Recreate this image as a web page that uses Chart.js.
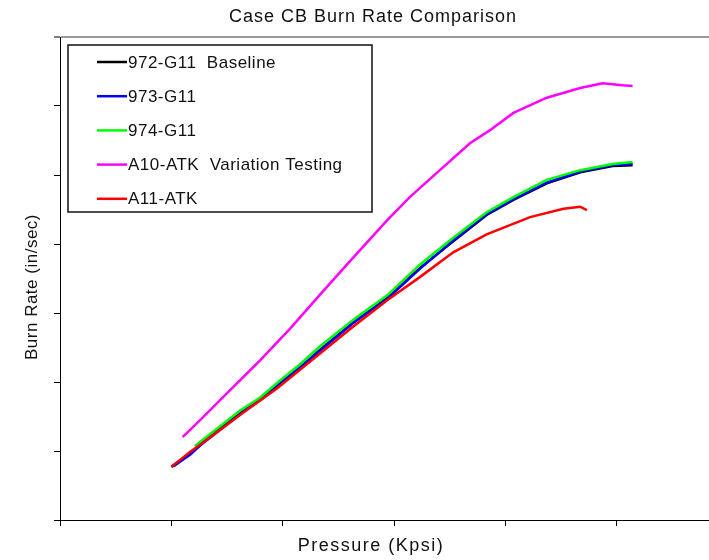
<!DOCTYPE html>
<html>
<head>
<meta charset="utf-8">
<script src="https://cdn.jsdelivr.net/npm/chart.js@4.4.0/dist/chart.umd.min.js"></script>
<style>
  html, body { margin: 0; padding: 0; background: #fff; }
  #wrap { width: 709px; height: 560px; }
</style>
</head>
<body>
<div id="wrap"><canvas id="burnChart" width="709" height="560"></canvas></div>
<script>
// pressure (Kpsi) and burn rate (in/sec)
const p972 = [1.00, 1.17, 1.28, 1.62, 1.80, 1.98, 2.15, 2.33, 2.63, 2.94, 3.23, 3.53, 3.83, 4.07, 4.37, 4.67, 4.96, 5.14];
const r972 = [0.077, 0.097, 0.113, 0.155, 0.174, 0.199, 0.220, 0.246, 0.286, 0.322, 0.365, 0.404, 0.442, 0.464, 0.488, 0.504, 0.513, 0.514];

const p973 = [1.02, 1.17, 1.28, 1.62, 1.80, 1.98, 2.15, 2.33, 2.63, 2.94, 3.23, 3.53, 3.83, 4.07, 4.37, 4.67, 4.96, 5.14];
const r973 = [0.078, 0.095, 0.111, 0.154, 0.175, 0.200, 0.221, 0.245, 0.285, 0.321, 0.364, 0.405, 0.443, 0.465, 0.489, 0.505, 0.514, 0.516];

const p974 = [1.21, 1.28, 1.62, 1.80, 1.98, 2.15, 2.33, 2.63, 2.94, 3.23, 3.53, 3.83, 4.07, 4.37, 4.67, 4.96, 5.14];
const r974 = [0.107, 0.116, 0.159, 0.178, 0.203, 0.225, 0.251, 0.290, 0.326, 0.370, 0.409, 0.446, 0.468, 0.493, 0.507, 0.516, 0.519];

const pA10 = [1.10, 1.26, 1.50, 1.80, 2.07, 2.33, 2.63, 2.94, 3.14, 3.41, 3.68, 3.86, 4.07, 4.37, 4.67, 4.87, 5.05, 5.14];
const rA10 = [0.120, 0.145, 0.184, 0.232, 0.278, 0.326, 0.380, 0.435, 0.468, 0.507, 0.546, 0.565, 0.590, 0.612, 0.626, 0.633, 0.630, 0.629];

const pA11 = [1.00, 1.17, 1.35, 1.64, 1.95, 2.24, 2.63, 2.94, 3.23, 3.53, 3.83, 4.22, 4.52, 4.67, 4.73];
const rA11 = [0.077, 0.099, 0.120, 0.155, 0.191, 0.229, 0.280, 0.319, 0.352, 0.388, 0.414, 0.439, 0.451, 0.454, 0.449];

const seriesNames = ['972-G11  Baseline', '973-G11', '974-G11', 'A10-ATK  Variation Testing', 'A11-ATK'];
const seriesColors = ['#000000', '#0000ff', '#00ff00', '#ff00ff', '#ff0000'];

const chartTitle = 'Case CB Burn Rate Comparison';
const xTitle = 'Pressure (Kpsi)';
const yTitle = 'Burn Rate (in/sec)';

const FONT = '"Liberation Sans", Arial, sans-serif';

function toPoints(px, ry) {
    return px.map((p, i) => ({ x: p, y: ry[i] }));
}

const allSeries = [
    toPoints(p972, r972),
    toPoints(p973, r973),
    toPoints(p974, r974),
    toPoints(pA10, rA10),
    toPoints(pA11, rA11)
];

// texts and the boxed legend, drawn where the old chart had them
const captionsPlugin = {
    id: 'captions',
    afterDraw(chart) {
        const ctx = chart.ctx;
        ctx.save();
        ctx.fillStyle = '#111';
        ctx.textAlign = 'center';
        ctx.textBaseline = 'middle';

        ctx.font = '18px ' + FONT;
        ctx.letterSpacing = '1px';
        ctx.fillText(chartTitle, 373, 17);

        ctx.letterSpacing = '1.5px';
        ctx.fillText(xTitle, 371, 546);

        ctx.font = '17px ' + FONT;
        ctx.letterSpacing = '0.5px';
        ctx.translate(32, 287);
        ctx.rotate(-Math.PI / 2);
        ctx.fillText(yTitle, 0, 0);
        ctx.restore();

        // legend box
        ctx.save();
        ctx.fillStyle = '#fff';
        ctx.fillRect(68, 45, 304, 167);
        ctx.strokeStyle = '#111';
        ctx.lineWidth = 1.5;
        ctx.strokeRect(68, 45, 304, 167);
        ctx.font = '17px ' + FONT;
        ctx.letterSpacing = '0.5px';
        ctx.textAlign = 'left';
        ctx.textBaseline = 'middle';
        chart.data.datasets.forEach((ds, i) => {
            const rowY = 62 + i * 34.2;
            ctx.strokeStyle = ds.borderColor;
            ctx.lineWidth = 2.5;
            ctx.beginPath();
            ctx.moveTo(97, rowY);
            ctx.lineTo(127, rowY);
            ctx.stroke();
            ctx.fillStyle = '#111';
            ctx.fillText(ds.label, 128, rowY + 1);
        });
        ctx.restore();
    }
};

const burnChart = new Chart(document.getElementById('burnChart').getContext('2d'), {
    type: 'line',
    data: {
        datasets: allSeries.map((pts, i) => ({
            label: seriesNames[i],
            data: pts,
            borderColor: seriesColors[i],
            backgroundColor: seriesColors[i],
            borderWidth: 2.5,
            pointRadius: 0,
            tension: 0,
            fill: false,
            order: seriesNames.length - i
        }))
    },
    options: {
        responsive: false,
        devicePixelRatio: 1,
        animation: false,
        layout: {
            padding: { top: 37, left: 0, right: 0, bottom: 0 }
        },
        plugins: {
            legend: { display: false },
            title: { display: false },
            tooltip: { enabled: false }
        },
        scales: {
            x: {
                type: 'linear',
                min: 0,
                max: 5.826,
                afterBuildTicks: scale => {
                    scale.ticks = scale.ticks.filter(t => Math.abs(t.value - Math.round(t.value)) < 1e-6);
                },
                afterFit: scale => { scale.height = 40; },
                ticks: { stepSize: 1, callback: () => '', padding: 0 },
                grid: {
                    drawOnChartArea: false,
                    drawTicks: true,
                    tickLength: 6,
                    color: '#000',
                    lineWidth: 1
                },
                border: { display: true, color: '#000', width: 1 }
            },
            y: {
                min: 0,
                max: 0.7,
                afterFit: scale => { scale.width = 60; },
                ticks: { stepSize: 0.1, callback: () => '', padding: 0 },
                grid: {
                    drawOnChartArea: true,
                    drawTicks: true,
                    tickLength: 6,
                    color: c => (c.tick && Math.abs(c.tick.value - 0.7) < 1e-6) ? '#9a9a9a' : 'rgba(0,0,0,0)',
                    lineWidth: c => (c.tick && Math.abs(c.tick.value - 0.7) < 1e-6) ? 2 : 1,
                    tickColor: '#000',
                    tickWidth: 1
                },
                border: { display: true, color: '#000', width: 1 }
            }
        }
    },
    plugins: [captionsPlugin]
});
</script>
</body>
</html>
